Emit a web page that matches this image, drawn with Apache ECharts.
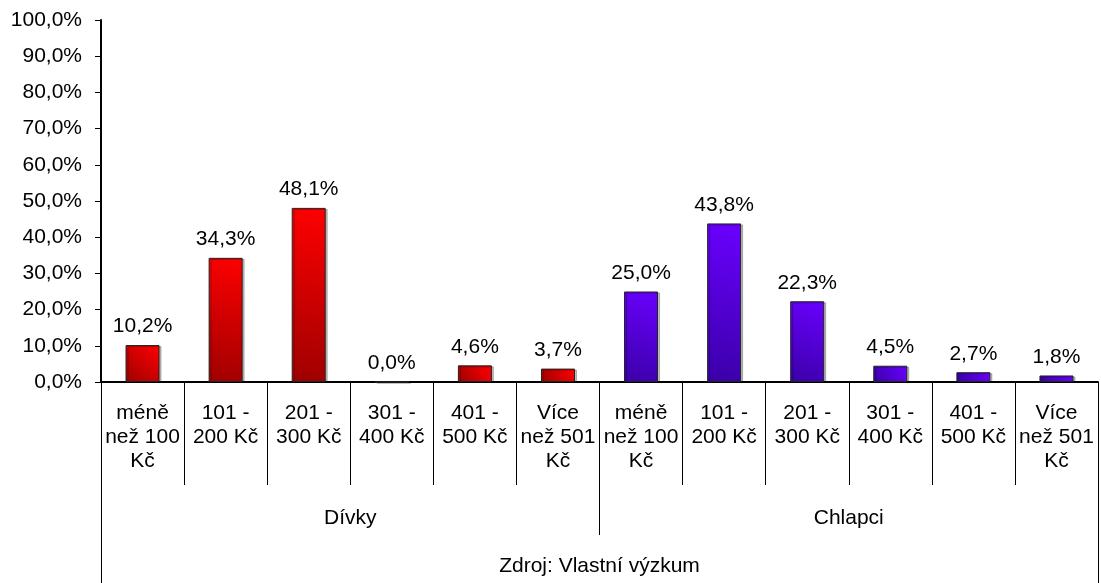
<!DOCTYPE html>
<html>
<head>
<meta charset="utf-8">
<script src="https://cdn.jsdelivr.net/npm/echarts@6/dist/echarts.min.js"></script>
<style>
  html, body { margin: 0; padding: 0; background: #fff; }
  #main { width: 1101px; height: 583px; }
</style>
</head>
<body>
<div id="main"></div>
<script>
// kategorie (opakují se pro obě skupiny)
var categories = ['méně\nnež 100\nKč', '101 -\n200 Kč', '201 -\n300 Kč', '301 -\n400 Kč', '401 -\n500 Kč', 'Více\nnež 501\nKč']
var groups = ['Dívky', 'Chlapci']
var source = ['Zdroj: Vlastní výzkum']
// hodnoty v %
var divky = [10.2, 34.3, 48.1, 0.0, 4.6, 3.7]
var chlapci = [25.0, 43.8, 22.3, 4.5, 2.7, 1.8]
var yTicks = [0, 10, 20, 30, 40, 50, 60, 70, 80, 90, 100]

var font = 'Liberation Sans, Arial, sans-serif'
var fs = 21
var allCats = categories.concat(categories)

function grad(c1, c2) {
    // tmavší vlevo dole, světlejší vpravo nahoře
    return new echarts.graphic.LinearGradient(0, 1, 1, 0, [
        { offset: 0, color: c1 },
        { offset: 1, color: c2 }
    ])
}
function pct(v) {
    return v.toFixed(1).replace('.', ',') + '%'
}

var redData = divky.concat(chlapci.map(function () { return null }))
var blueData = divky.map(function () { return null }).concat(chlapci)

var myChart = echarts.init(document.getElementById('main'))
var option = {
    animation: false,
    grid: { left: 101, right: 3, top: 20, bottom: 201 },
    xAxis: [
        {
            type: 'category',
            data: allCats,
            axisLine: { lineStyle: { color: '#000', width: 2 } },
            axisTick: { show: true, interval: 0, length: 103, lineStyle: { color: '#000', width: 1 } },
            axisLabel: {
                interval: 0, margin: 19, color: '#000', fontSize: fs,
                lineHeight: 24, fontFamily: font
            }
        },
        {
            type: 'category',
            position: 'bottom',
            data: groups,
            axisLine: { show: false },
            axisTick: { show: true, interval: 0, length: 153, lineStyle: { color: '#000', width: 1 } },
            axisLabel: { interval: 0, margin: 126, color: '#000', fontSize: fs, fontFamily: font }
        },
        {
            type: 'category',
            position: 'bottom',
            data: source,
            axisLine: { show: false },
            axisTick: { show: true, interval: 0, length: 201, lineStyle: { color: '#000', width: 1 } },
            axisLabel: { interval: 0, margin: 174, color: '#000', fontSize: fs, fontFamily: font }
        }
    ],
    yAxis: {
        type: 'value',
        min: yTicks[0],
        max: yTicks[yTicks.length - 1],
        interval: 10,
        splitLine: { show: false },
        axisLine: { show: true, lineStyle: { color: '#000', width: 2 } },
        axisTick: { show: true, length: 6, lineStyle: { color: '#000' } },
        axisLabel: {
            margin: 19, color: '#000', fontSize: fs, fontFamily: font,
            formatter: pct
        }
    },
    series: [
        {
            name: 'Dívky',
            type: 'bar',
            barWidth: 34,
            barGap: '-100%',
            data: redData,
            itemStyle: {
                color: grad('#9e0000', '#ff0000'), borderColor: '#222', borderWidth: 1,
                shadowColor: 'rgba(0,0,0,0.25)', shadowOffsetX: 2, shadowOffsetY: 1
            },
            label: {
                show: true, position: 'top', distance: 8, color: '#000', fontSize: fs, fontFamily: font,
                formatter: function (p) { return pct(p.value) }
            }
        },
        {
            name: 'Chlapci',
            type: 'bar',
            barWidth: 34,
            barGap: '-100%',
            data: blueData,
            itemStyle: {
                color: grad('#3a00a8', '#6a00ff'), borderColor: '#222', borderWidth: 1,
                shadowColor: 'rgba(0,0,0,0.25)', shadowOffsetX: 2, shadowOffsetY: 1
            },
            label: {
                show: true, position: 'top', distance: 8, color: '#000', fontSize: fs, fontFamily: font,
                formatter: function (p) { return pct(p.value) }
            }
        }
    ]
}
myChart.setOption(option)
</script>
</body>
</html>
